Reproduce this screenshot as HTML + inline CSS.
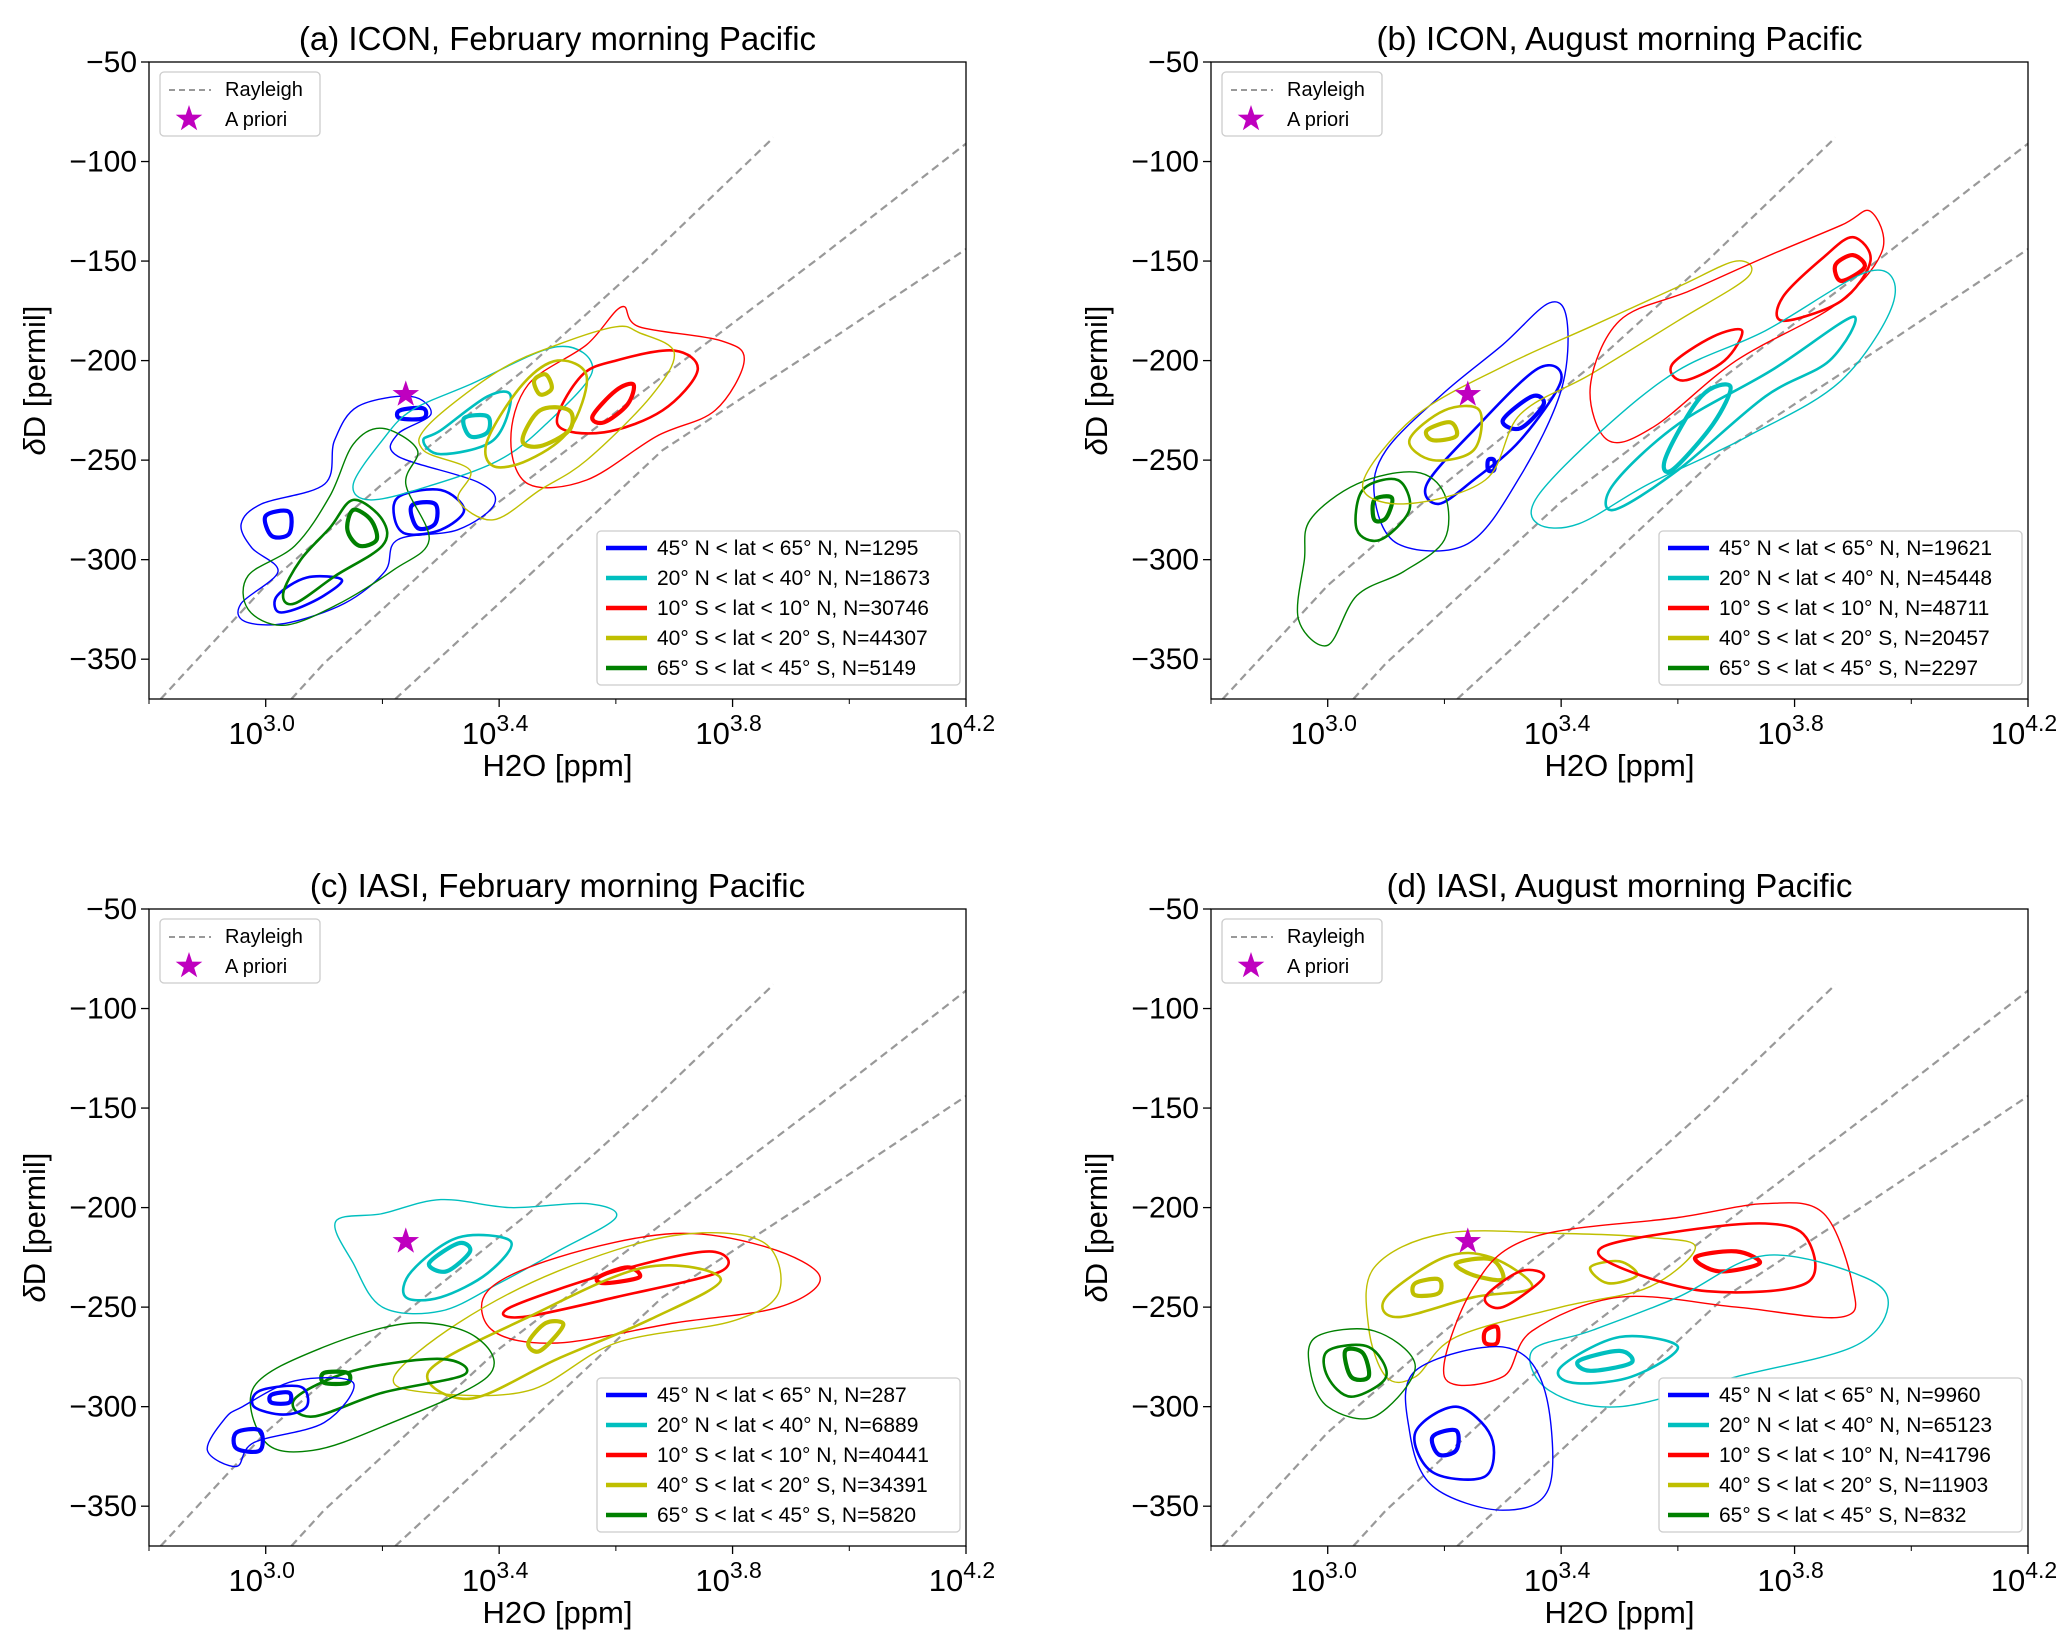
<!DOCTYPE html>
<html><head><meta charset="utf-8"><style>
html,body{margin:0;padding:0;background:#fff}
svg{display:block;font-family:"Liberation Sans","DejaVu Sans",sans-serif}
</style></head><body>
<svg id="fig" width="2067" height="1649" viewBox="0 0 2067 1649" xmlns="http://www.w3.org/2000/svg"></svg>
<script>
// ---- data ----
const xTicks = [3.0, 3.4, 3.8, 4.2];
const xTickLabels = ["3.0", "3.4", "3.8", "4.2"];
const xMinorTicks = [2.8, 3.2, 3.6, 4.0];
const yTicks = [-50, -100, -150, -200, -250, -300, -350];
const seriesColors = ["#0000ff", "#00bfbf", "#ff0000", "#bfbf00", "#008000"];
const seriesLabels = ["45° N < lat < 65° N", "20° N < lat < 40° N", "10° S < lat < 10° N", "40° S < lat < 20° S", "65° S < lat < 45° S"];
const panelTitles = ["(a) ICON, February morning Pacific", "(b) ICON, August morning Pacific", "(c) IASI, February morning Pacific", "(d) IASI, August morning Pacific"];
const countsA = [1295, 18673, 30746, 44307, 5149];
const countsB = [19621, 45448, 48711, 20457, 2297];
const countsC = [287, 6889, 40441, 34391, 5820];
const countsD = [9960, 65123, 41796, 11903, 832];
const aprioriPoint = [3.24, -217];
const rayleigh1 = [[2.82,-370],[3.0,-313],[3.2,-262],[3.45,-203],[3.65,-150],[3.87,-88]];
const rayleigh2 = [[3.044,-370],[3.1,-352],[3.2,-325],[3.4,-271],[3.68,-208],[3.95,-148],[4.2,-91]];
const rayleigh3 = [[3.222,-370],[3.4,-322],[3.68,-245],[3.95,-193],[4.2,-144]];
// contours: series index, level (0 thin,1 medium,2 thick), polygon points [log10 H2O, dD]
const contoursA = [
 [0,0,[[3.249,-218],[3.158,-223],[3.118,-240],[3.101,-262],[2.993,-272],[2.958,-282],[2.976,-294],[3.021,-306],[2.958,-322],[2.964,-331],[3.033,-332],[3.135,-322],[3.204,-306],[3.226,-290],[3.329,-285],[3.392,-272],[3.363,-261],[3.226,-248],[3.226,-237],[3.283,-227]]],
 [0,1,[[3.23,-268],[3.3,-265],[3.34,-275],[3.3,-285],[3.24,-287],[3.22,-278]]],
 [0,2,[[3.25,-273],[3.29,-272],[3.29,-282],[3.26,-284]]],
 [0,2,[[3.0,-278],[3.04,-276],[3.04,-287],[3.01,-288]]],
 [0,2,[[3.23,-225],[3.27,-224],[3.27,-229],[3.23,-229]]],
 [0,1,[[3.02,-318],[3.07,-309],[3.13,-310],[3.1,-318],[3.05,-325],[3.02,-326]]],
 [4,0,[[3.2,-234],[3.26,-245],[3.24,-262],[3.28,-290],[3.22,-305],[3.12,-323],[3.03,-333],[2.97,-325],[2.97,-308],[3.05,-293],[3.11,-268],[3.15,-242]]],
 [4,1,[[3.15,-270],[3.2,-280],[3.2,-293],[3.12,-308],[3.05,-322],[3.03,-317],[3.06,-300],[3.11,-284]]],
 [4,2,[[3.15,-275],[3.18,-280],[3.19,-290],[3.16,-293],[3.14,-285]]],
 [1,0,[[3.25,-225],[3.35,-212],[3.5,-193],[3.56,-205],[3.48,-232],[3.4,-250],[3.28,-263],[3.18,-270],[3.15,-262],[3.2,-240]]],
 [1,1,[[3.3,-235],[3.38,-218],[3.42,-218],[3.39,-240],[3.3,-247],[3.27,-240]]],
 [1,2,[[3.34,-229],[3.38,-228],[3.38,-236],[3.35,-238]]],
 [2,0,[[3.42,-240],[3.45,-212],[3.55,-192],[3.61,-173],[3.64,-183],[3.78,-190],[3.82,-200],[3.77,-225],[3.67,-238],[3.55,-260],[3.45,-262]]],
 [2,1,[[3.5,-232],[3.54,-208],[3.6,-200],[3.7,-195],[3.74,-205],[3.68,-225],[3.58,-236]]],
 [2,2,[[3.56,-228],[3.6,-215],[3.63,-212],[3.62,-222],[3.58,-231]]],
 [3,0,[[3.28,-232],[3.4,-205],[3.5,-192],[3.6,-183],[3.64,-186],[3.7,-196],[3.66,-218],[3.55,-250],[3.47,-265],[3.39,-280],[3.33,-270],[3.35,-255],[3.27,-245]]],
 [3,1,[[3.38,-240],[3.44,-212],[3.5,-200],[3.55,-208],[3.52,-235],[3.45,-250],[3.39,-253]]],
 [3,2,[[3.44,-240],[3.47,-225],[3.52,-225],[3.52,-235],[3.47,-243]]],
 [3,2,[[3.46,-210],[3.48,-207],[3.49,-214],[3.47,-217]]]
];
const contoursB = [
 [0,0,[[3.1,-245],[3.2,-216],[3.3,-192],[3.38,-171],[3.41,-180],[3.4,-215],[3.33,-258],[3.24,-292],[3.12,-292],[3.08,-268]]],
 [0,1,[[3.17,-262],[3.25,-235],[3.36,-204],[3.4,-210],[3.33,-240],[3.25,-260],[3.19,-272]]],
 [0,2,[[3.3,-230],[3.35,-218],[3.37,-222],[3.33,-234]]],
 [0,2,[[3.275,-250],[3.285,-250],[3.285,-255],[3.275,-255]]],
 [4,0,[[3.05,-262],[3.15,-256],[3.2,-267],[3.2,-290],[3.13,-306],[3.05,-318],[3.0,-343],[2.95,-330],[2.96,-300],[2.97,-280]]],
 [4,1,[[3.06,-265],[3.12,-260],[3.14,-275],[3.09,-290],[3.05,-285]]],
 [4,2,[[3.08,-270],[3.11,-269],[3.1,-279],[3.08,-280]]],
 [3,0,[[3.06,-262],[3.15,-228],[3.3,-203],[3.45,-183],[3.6,-163],[3.7,-150],[3.72,-158],[3.6,-180],[3.45,-207],[3.33,-227],[3.27,-260],[3.13,-272]]],
 [3,1,[[3.14,-240],[3.2,-225],[3.26,-225],[3.25,-245],[3.18,-250]]],
 [3,2,[[3.17,-235],[3.21,-231],[3.22,-238],[3.18,-240]]],
 [2,0,[[3.45,-213],[3.5,-180],[3.62,-165],[3.75,-148],[3.88,-132],[3.93,-125],[3.95,-145],[3.87,-172],[3.7,-200],[3.56,-233],[3.48,-240]]],
 [2,1,[[3.78,-168],[3.85,-148],[3.9,-138],[3.93,-150],[3.88,-170],[3.78,-180]]],
 [2,2,[[3.87,-152],[3.9,-147],[3.92,-153],[3.88,-160]]],
 [2,1,[[3.59,-202],[3.66,-188],[3.71,-185],[3.68,-200],[3.61,-210]]],
 [1,0,[[3.36,-268],[3.47,-235],[3.6,-205],[3.75,-185],[3.93,-155],[3.97,-170],[3.88,-210],[3.72,-238],[3.55,-262],[3.43,-282],[3.36,-282]]],
 [1,1,[[3.49,-262],[3.6,-232],[3.76,-205],[3.9,-178],[3.86,-200],[3.75,-218],[3.6,-255],[3.49,-275]]],
 [1,2,[[3.58,-248],[3.64,-218],[3.69,-213],[3.66,-232],[3.59,-255]]]
];
const contoursC = [
 [1,0,[[3.2,-203],[3.3,-196],[3.42,-200],[3.55,-198],[3.6,-205],[3.5,-222],[3.4,-238],[3.3,-252],[3.2,-250],[3.15,-228],[3.12,-207]]],
 [1,1,[[3.25,-232],[3.33,-215],[3.42,-217],[3.38,-233],[3.3,-245],[3.24,-245]]],
 [1,2,[[3.28,-228],[3.33,-218],[3.35,-222],[3.31,-232]]],
 [2,0,[[3.38,-242],[3.5,-225],[3.7,-213],[3.86,-220],[3.95,-235],[3.88,-250],[3.7,-258],[3.5,-268],[3.39,-262]]],
 [2,1,[[3.42,-250],[3.6,-232],[3.76,-222],[3.78,-232],[3.6,-245],[3.44,-255]]],
 [2,2,[[3.57,-235],[3.62,-230],[3.64,-235],[3.58,-238]]],
 [3,0,[[3.22,-285],[3.33,-258],[3.5,-232],[3.7,-214],[3.85,-217],[3.88,-242],[3.8,-257],[3.6,-268],[3.45,-292],[3.28,-293]]],
 [3,1,[[3.28,-282],[3.45,-255],[3.65,-230],[3.78,-236],[3.66,-256],[3.5,-276],[3.35,-296]]],
 [3,2,[[3.45,-268],[3.48,-258],[3.51,-259],[3.47,-272]]],
 [4,0,[[2.98,-290],[3.1,-270],[3.25,-258],[3.36,-265],[3.38,-285],[3.2,-310],[3.08,-322],[3.0,-318]]],
 [4,1,[[3.05,-296],[3.15,-282],[3.3,-276],[3.34,-284],[3.2,-293],[3.08,-305]]],
 [4,2,[[3.1,-283],[3.14,-283],[3.14,-288],[3.1,-288]]],
 [0,0,[[2.96,-300],[3.05,-287],[3.15,-288],[3.1,-308],[2.98,-318],[2.95,-330],[2.9,-322],[2.93,-306]]],
 [0,1,[[2.99,-292],[3.06,-290],[3.07,-300],[3.03,-304],[2.98,-300]]],
 [0,2,[[3.01,-294],[3.04,-293],[3.04,-298],[3.01,-298]]],
 [0,2,[[2.95,-313],[2.99,-312],[2.99,-322],[2.95,-321]]]
];
const contoursD = [
 [3,0,[[3.08,-230],[3.2,-213],[3.4,-213],[3.55,-215],[3.63,-220],[3.55,-240],[3.4,-250],[3.22,-265],[3.15,-285],[3.1,-285],[3.07,-260]]],
 [3,1,[[3.1,-245],[3.2,-225],[3.28,-225],[3.35,-240],[3.25,-245],[3.12,-255]]],
 [3,1,[[3.45,-230],[3.5,-227],[3.53,-234],[3.48,-238]]],
 [3,2,[[3.15,-238],[3.19,-236],[3.19,-243],[3.15,-244]]],
 [3,2,[[3.22,-228],[3.28,-226],[3.3,-236],[3.25,-234]]],
 [2,0,[[3.2,-285],[3.25,-240],[3.35,-215],[3.6,-205],[3.75,-198],[3.85,-203],[3.9,-240],[3.88,-255],[3.7,-250],[3.5,-245],[3.35,-262],[3.3,-285]]],
 [2,1,[[3.47,-220],[3.6,-212],[3.75,-208],[3.82,-215],[3.82,-238],[3.65,-242],[3.5,-230]]],
 [2,1,[[3.27,-245],[3.33,-232],[3.37,-235],[3.3,-250]]],
 [2,2,[[3.63,-225],[3.7,-222],[3.74,-228],[3.67,-232]]],
 [2,2,[[3.27,-262],[3.29,-260],[3.29,-268],[3.27,-268]]],
 [1,0,[[3.35,-272],[3.45,-262],[3.6,-245],[3.75,-224],[3.92,-235],[3.96,-250],[3.9,-270],[3.7,-285],[3.5,-300],[3.38,-292]]],
 [1,1,[[3.4,-280],[3.5,-265],[3.6,-270],[3.52,-285],[3.42,-288]]],
 [1,2,[[3.43,-277],[3.5,-272],[3.52,-278],[3.45,-282]]],
 [0,0,[[3.15,-282],[3.3,-270],[3.37,-290],[3.38,-340],[3.3,-352],[3.18,-340],[3.14,-312]]],
 [0,1,[[3.15,-313],[3.22,-300],[3.28,-315],[3.27,-335],[3.18,-333]]],
 [0,2,[[3.18,-315],[3.22,-312],[3.22,-322],[3.19,-324]]],
 [4,0,[[2.98,-265],[3.08,-262],[3.15,-280],[3.08,-305],[3.0,-300],[2.97,-282]]],
 [4,1,[[3.0,-272],[3.07,-270],[3.1,-285],[3.04,-295],[3.0,-285]]],
 [4,2,[[3.03,-272],[3.06,-273],[3.07,-285],[3.04,-285]]]
];
// ---- drawing ----
const NS = "http://www.w3.org/2000/svg";
const svg = document.getElementById("fig");
const panelBoxes = [[149,62],[1211,62],[149,909],[1211,909]];
const PW = 817, PH = 637;
const countsAll = [countsA, countsB, countsC, countsD];
const contoursAll = [contoursA, contoursB, contoursC, contoursD];
const lineW = [1.4, 2.6, 4.2];
function mk(tag, attrs, parent){const e=document.createElementNS(NS,tag);for(const k in attrs)e.setAttribute(k,attrs[k]);(parent||svg).appendChild(e);return e;}
function smoothClosed(p){let d="";const n=p.length;for(let i=0;i<n;i++){const p0=p[(i-1+n)%n],p1=p[i],p2=p[(i+1)%n],p3=p[(i+2)%n];if(i===0)d+="M"+p1[0].toFixed(1)+","+p1[1].toFixed(1);const c1=[p1[0]+(p2[0]-p0[0])/6,p1[1]+(p2[1]-p0[1])/6],c2=[p2[0]-(p3[0]-p1[0])/6,p2[1]-(p3[1]-p1[1])/6];d+="C"+c1.map(v=>v.toFixed(1))+" "+c2.map(v=>v.toFixed(1))+" "+p2.map(v=>v.toFixed(1));}return d+"Z";}
function star(cx,cy,R,r){let pts=[];for(let i=0;i<10;i++){const a=-Math.PI/2+i*Math.PI/5,rr=i%2?r:R;pts.push((cx+rr*Math.cos(a)).toFixed(1)+","+(cy+rr*Math.sin(a)).toFixed(1));}return pts.join(" ");}
panelBoxes.forEach((b,pi)=>{
 const L=b[0],T=b[1];
 const xs=v=>L+(v-2.8)/1.4*PW, ys=v=>T+(-50-v)/320*PH;
 const g=mk("g",{});
 
 
 const clipId="clip"+pi;
 const cp=mk("clipPath",{id:clipId},g);mk("rect",{x:L,y:T,width:PW,height:PH},cp);
 const t=mk("text",{x:L+PW/2,y:T-12,"text-anchor":"middle","font-size":"33"},g);t.textContent=panelTitles[pi];
 
 
 const plot=mk("g",{"clip-path":"url(#"+clipId+")"},g);
 [rayleigh1,rayleigh2,rayleigh3].forEach((r,ri)=>{
  const pl=mk("polyline",{points:r.map(p=>xs(p[0]).toFixed(1)+","+ys(p[1]).toFixed(1)).join(" "),fill:"none",stroke:"#999999","stroke-width":"2.2","stroke-dasharray":"8,5"},plot);
  
  
 });
 contoursAll[pi].forEach(c=>{
  const pts=c[2].map(p=>[xs(p[0]),ys(p[1])]);
  const path=mk("path",{d:smoothClosed(pts),fill:"none",stroke:seriesColors[c[0]],"stroke-width":lineW[c[1]],"stroke-linejoin":"round"},plot);
  
  
 });
 const st=mk("polygon",{points:star(xs(aprioriPoint[0]),ys(aprioriPoint[1]),14,5.5),fill:"#bf00bf"},plot);
 
 
 const fr=mk("rect",{x:L,y:T,width:PW,height:PH,fill:"none",stroke:"#000","stroke-width":"1.3"},g);
 
 
 xTicks.forEach((v,i)=>{
  mk("line",{x1:xs(v),x2:xs(v),y1:T+PH,y2:T+PH+8,stroke:"#000","stroke-width":"1.3"},g);
  const tx=mk("text",{x:xs(v)-4,y:T+PH+45,"text-anchor":"middle","font-size":"31"},g);
  
  
  tx.innerHTML='10<tspan dy="-13" font-size="23">'+xTickLabels[i]+'</tspan>';
 });
 xMinorTicks.forEach(v=>mk("line",{x1:xs(v),x2:xs(v),y1:T+PH,y2:T+PH+5,stroke:"#000","stroke-width":"1"},g));
 yTicks.forEach(v=>{
  mk("line",{x1:L-8,x2:L,y1:ys(v),y2:ys(v),stroke:"#000","stroke-width":"1.3"},g);
  const ty=mk("text",{x:L-12,y:ys(v)+10,"text-anchor":"end","font-size":"30"},g);
  ty.textContent="\u2212"+Math.abs(v);
  
  
 });
 const xl=mk("text",{x:L+PW/2,y:T+PH+77,"text-anchor":"middle","font-size":"31"},g);xl.textContent="H2O [ppm]";
 
 
 const yl=mk("text",{x:0,y:0,"text-anchor":"middle","font-size":"31",transform:"translate("+(L-104)+","+(T+PH/2)+") rotate(-90)"},g);
 yl.innerHTML='<tspan font-style="italic">δ</tspan>D [permil]';
 
 
 // top-left legend
 const lg=mk("g",{},g);
 
 
 mk("rect",{x:L+11,y:T+10,width:160,height:64,rx:4,fill:"#fff",stroke:"#ccc","stroke-width":"1.3"},lg);
 mk("line",{x1:L+20,x2:L+62,y1:T+28,y2:T+28,stroke:"#999999","stroke-width":"2","stroke-dasharray":"6,4"},lg);
 const r1=mk("text",{x:L+76,y:T+34,"font-size":"20"},lg);r1.textContent="Rayleigh";
 mk("polygon",{points:star(L+40,T+57,14,5.5),fill:"#bf00bf"},lg);
 const r2=mk("text",{x:L+76,y:T+64,"font-size":"20"},lg);r2.textContent="A priori";
 // series legend
 const sl=mk("g",{},g);
 
 
 const lx=L+PW-369, ly=T+PH-168;
 mk("rect",{x:lx,y:ly,width:363,height:154,rx:4,fill:"#fff",stroke:"#ccc","stroke-width":"1.3"},sl);
 seriesLabels.forEach((s,i)=>{
  const yy=ly+17+i*30;
  mk("line",{x1:lx+9,x2:lx+50,y1:yy,y2:yy,stroke:seriesColors[i],"stroke-width":"4.5"},sl);
  const tt=mk("text",{x:lx+60,y:yy+7,"font-size":"21"},sl);
  tt.textContent=s+", N="+countsAll[pi][i];
  
  
 });
});
</script>
</body></html>
